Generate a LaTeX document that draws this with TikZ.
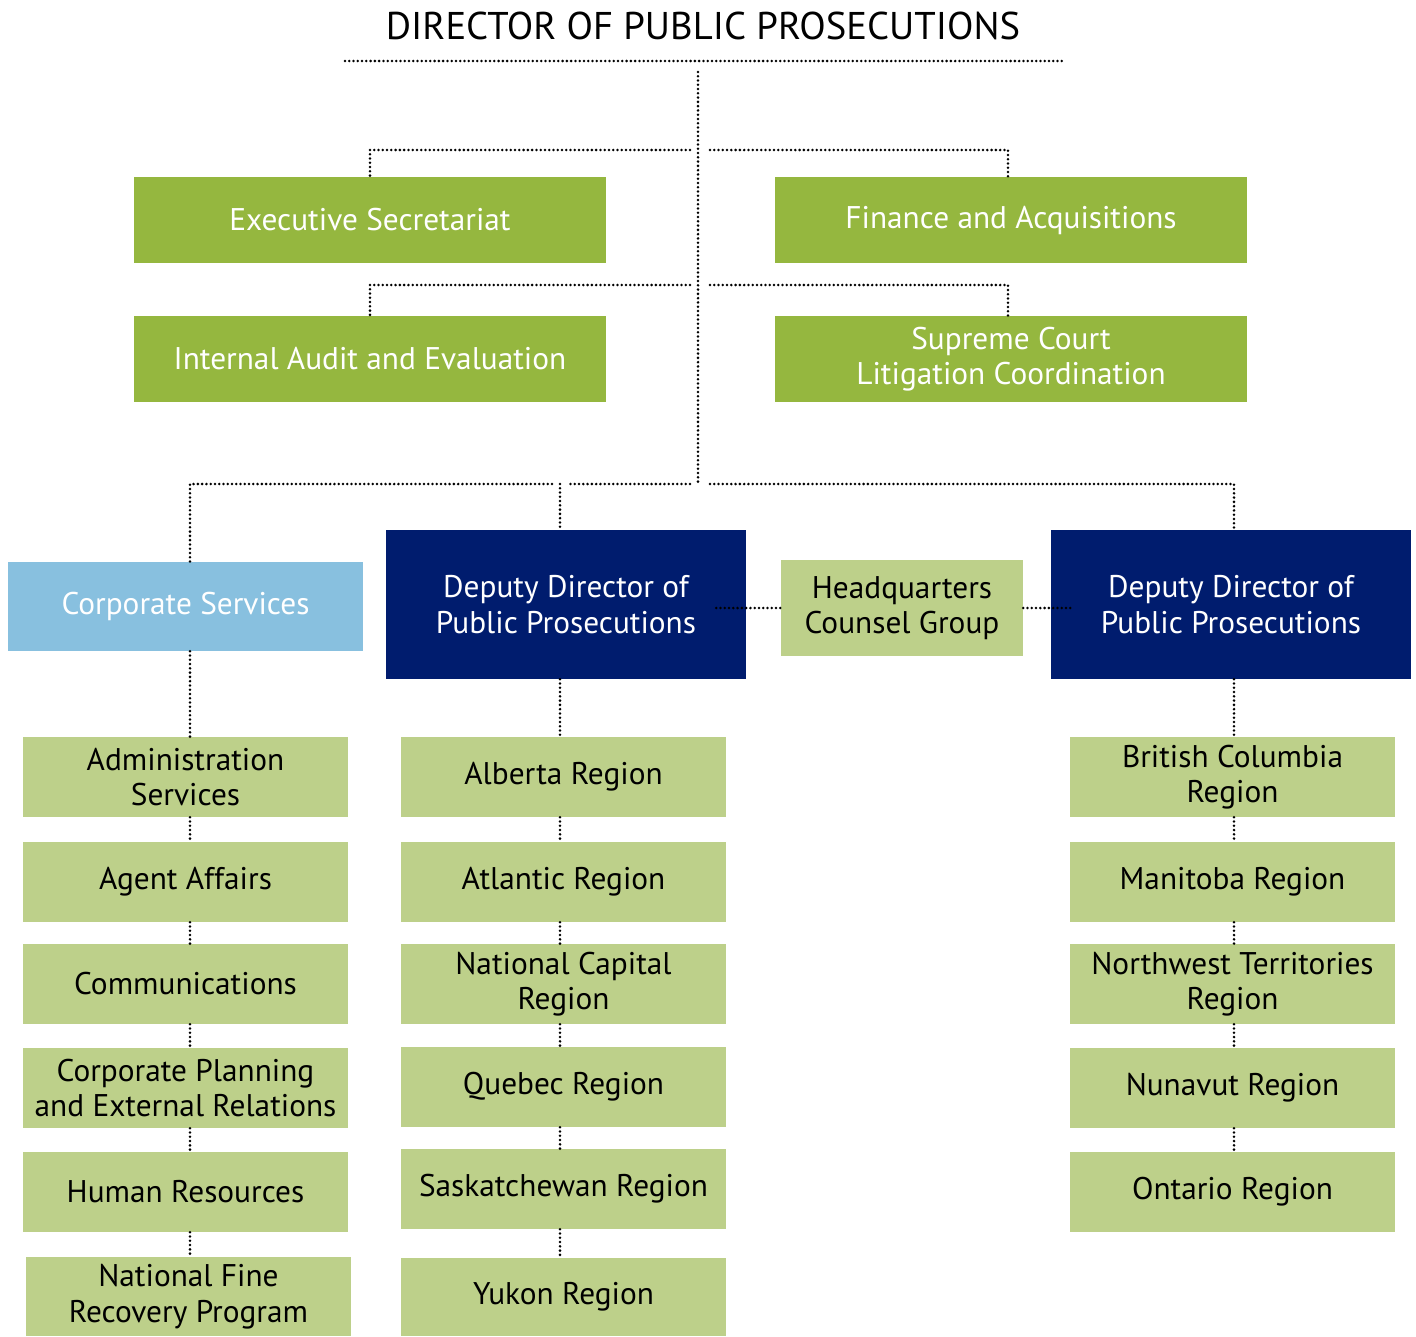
\documentclass[tikz,border=0pt]{standalone}
\usepackage{fontspec}
\setmainfont{PT Sans}
\definecolor{dgreen}{HTML}{95B73F}
\definecolor{lgreen}{HTML}{BDD08A}
\definecolor{lblue}{HTML}{88C0DF}
\definecolor{navy}{HTML}{001C6E}
\begin{document}
\begin{tikzpicture}[x=0.75pt,y=-0.75pt,
  dotline/.style={line width=2.1pt,line cap=round,dash pattern=on 0pt off 3.2pt},
  wh/.style 2 args={minimum width=#1*0.75pt,minimum height=#2*0.75pt},
  base/.style={inner sep=0pt,align=center,font=\fontsize{23.5}{26.5}\selectfont},
  topbox/.style={base,fill=dgreen,text=white,wh={472}{86}},
  corpbox/.style={base,fill=lblue,text=white,wh={355}{89}},
  ddbox/.style={base,fill=navy,text=white,wh={360}{149}},
  subbox/.style={base,fill=lgreen,text=black,wh={325}{80}}]
\useasboundingbox (0,0) rectangle (1416,1336);
% title
\node[inner sep=0pt,font=\fontsize{29}{33}\selectfont] (title) at (703,26) {DIRECTOR OF PUBLIC PROSECUTIONS};
\coordinate (tl) at (345,61);
\coordinate (tr) at (1062,61);
\draw[dotline] (tl) -- (tr);
% top boxes
\node[topbox] (exec) at (370,220) {Executive Secretariat};
\node[topbox] (fin) at (1011,220) {Finance and Acquisitions};
\node[topbox] (audit) at (370,359) {Internal Audit and Evaluation};
\node[topbox] (sup) at (1011,359) {Supreme Court\\Litigation Coordination};
% second level
\node[corpbox] (corp) at (185.5,606.5) {Corporate Services};
\node[ddbox] (dd1) at (566,604.5) {Deputy Director of\\Public Prosecutions};
\node[subbox,wh={242}{96}] (hq) at (902,608) {Headquarters\\Counsel Group};
\node[ddbox] (dd2) at (1231,604.5) {Deputy Director of\\Public Prosecutions};
% column 1
\node[subbox] (c1a) at (185.5,777) {Administration\\Services};
\node[subbox] (c1b) at (185.5,882) {Agent Affairs};
\node[subbox] (c1c) at (185.5,984) {Communications};
\node[subbox] (c1d) at (185.5,1088) {Corporate Planning\\and External Relations};
\node[subbox] (c1e) at (185.5,1192) {Human Resources};
\node[subbox,wh={325}{79}] (c1f) at (188.5,1296.5) {National Fine\\Recovery Program};
% column 2
\node[subbox] (c2a) at (563.5,777) {Alberta Region};
\node[subbox] (c2b) at (563.5,882) {Atlantic Region};
\node[subbox] (c2c) at (563.5,984) {National Capital\\Region};
\node[subbox] (c2d) at (563.5,1087) {Quebec Region};
\node[subbox] (c2e) at (563.5,1189) {Saskatchewan Region};
\node[subbox,wh={325}{78}] (c2f) at (563.5,1297) {Yukon Region};
% column 3
\node[subbox] (c3a) at (1232.5,777) {British Columbia\\Region};
\node[subbox] (c3b) at (1232.5,882) {Manitoba Region};
\node[subbox] (c3c) at (1232.5,984) {Northwest Territories\\Region};
\node[subbox] (c3d) at (1232.5,1088) {Nunavut Region};
\node[subbox] (c3e) at (1232.5,1192) {Ontario Region};
% trunk
\coordinate (trtop) at (698,72);
\coordinate (trbot) at (698,484);
\draw[dotline] (trtop) -- (trbot);
% branches row 1
\coordinate (b1l) at (690,150);
\coordinate (b1r) at (710,150);
\draw[dotline] (b1l) -| (exec.north);
\draw[dotline] (b1r) -| (1008,177) coordinate (fdrop) -- (fdrop |- fin.north);
% branches row 2
\coordinate (b2l) at (690,285);
\coordinate (b2r) at (710,285);
\draw[dotline] (b2l) -| (audit.north);
\draw[dotline] (b2r) -| (1008,316) coordinate (sdrop) -- (sdrop |- sup.north);
% branches row 3
\coordinate (b3l) at (690,484);
\coordinate (b3r) at (710,484);
\coordinate (x1) at (190,0);
\coordinate (x2) at (560,0);
\coordinate (x3) at (1234,0);
\draw[dotline] (b3l) -- (570,484);
\draw[dotline] (552,484) -- (190,484) -- (x1 |- corp.north);
\draw[dotline] (x2 |- b3l) -- (x2 |- dd1.north);
\draw[dotline] (b3r) -| (x3 |- dd2.north);
% HQ links
\draw[dotline] ([xshift=-30*0.75pt]dd1.east |- hq.west) -- (hq.west);
\draw[dotline] (hq.east) -- ([xshift=21*0.75pt]dd2.west |- hq.east);
% column links
\draw[dotline] (x1 |- corp.south) -- (x1 |- c1a.north);
\draw[dotline] (x1 |- c1a.south) -- (x1 |- c1b.north);
\draw[dotline] (x1 |- c1b.south) -- (x1 |- c1c.north);
\draw[dotline] (x1 |- c1c.south) -- (x1 |- c1d.north);
\draw[dotline] (x1 |- c1d.south) -- (x1 |- c1e.north);
\draw[dotline] (x1 |- c1e.south) -- (x1 |- c1f.north);
\draw[dotline] (x2 |- dd1.south) -- (x2 |- c2a.north);
\draw[dotline] (x2 |- c2a.south) -- (x2 |- c2b.north);
\draw[dotline] (x2 |- c2b.south) -- (x2 |- c2c.north);
\draw[dotline] (x2 |- c2c.south) -- (x2 |- c2d.north);
\draw[dotline] (x2 |- c2d.south) -- (x2 |- c2e.north);
\draw[dotline] (x2 |- c2e.south) -- (x2 |- c2f.north);
\draw[dotline] (x3 |- dd2.south) -- (x3 |- c3a.north);
\draw[dotline] (x3 |- c3a.south) -- (x3 |- c3b.north);
\draw[dotline] (x3 |- c3b.south) -- (x3 |- c3c.north);
\draw[dotline] (x3 |- c3c.south) -- (x3 |- c3d.north);
\draw[dotline] (x3 |- c3d.south) -- (x3 |- c3e.north);
\end{tikzpicture}
\end{document}
